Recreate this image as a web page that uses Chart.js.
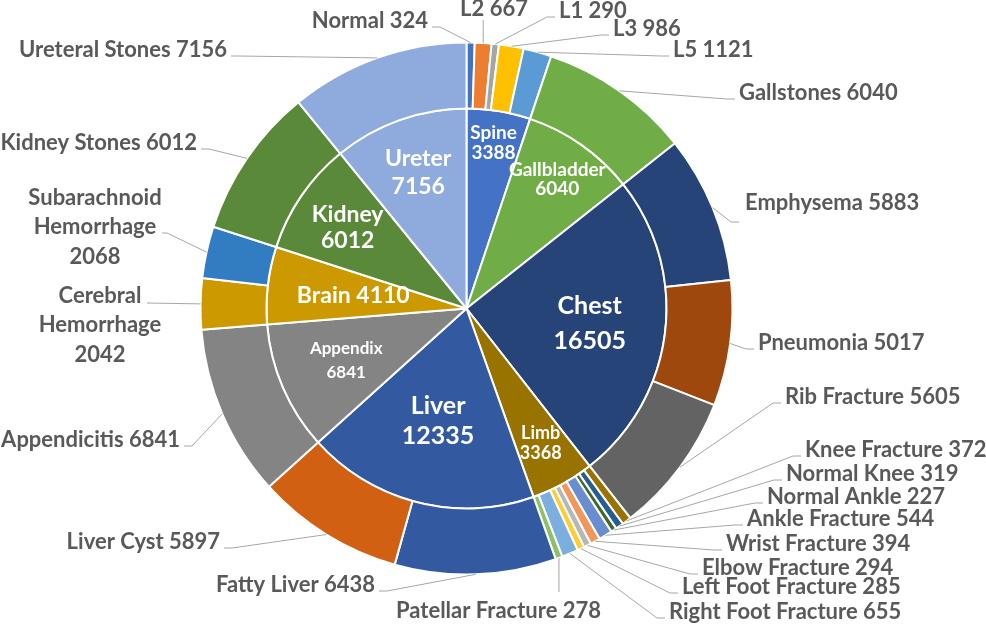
<!DOCTYPE html>
<html>
<head>
<meta charset="utf-8">
<script src="https://cdn.jsdelivr.net/npm/chart.js@4/dist/chart.umd.min.js"></script>
<style>
  html, body { margin: 0; padding: 0; background: #fff; }
  canvas { display: block; }
</style>
</head>
<body>
<canvas id="chart" width="986" height="627"></canvas>
<script>
// ── Datos ────────────────────────────────────────────
const categories = ['Spine', 'Gallbladder', 'Chest', 'Limb', 'Liver', 'Appendix', 'Brain', 'Kidney', 'Ureter'];
const categoryValues = [3388, 6040, 16505, 3368, 12335, 6841, 4110, 6012, 7156];

const findings = [
    'Normal', 'L2', 'L1', 'L3', 'L5',
    'Gallstones',
    'Emphysema', 'Pneumonia', 'Rib Fracture',
    'Knee Fracture', 'Normal Knee', 'Normal Ankle', 'Ankle Fracture', 'Wrist Fracture',
    'Elbow Fracture', 'Left Foot Fracture', 'Right Foot Fracture', 'Patellar Fracture',
    'Fatty Liver', 'Liver Cyst',
    'Appendicitis',
    'Cerebral Hemorrhage', 'Subarachnoid Hemorrhage',
    'Kidney Stones',
    'Ureteral Stones'
];
const findingValues = [
    324, 667, 290, 986, 1121,
    6040,
    5883, 5017, 5605,
    372, 319, 227, 544, 394,
    294, 285, 655, 278,
    6438, 5897,
    6841,
    2042, 2068,
    6012,
    7156
];

// ── Colores (paleta Office) ──────────────────────────
const findingColors = [
    '#4472C4', '#ED7D31', '#A5A5A5', '#FFC000', '#5B9BD5', '#70AD47', '#264478', '#9E480E', '#636363',
    '#997300', '#255E91', '#43682B', '#698ED0', '#F1975A', '#B7B7B7', '#FFCD33', '#7CAFDD', '#8CC168',
    '#335AA1', '#D26012', '#848484', '#CC9A00', '#327DC2', '#5A8A39', '#8FAADC'
];
const categoryColors = ['#4472C4', '#70AD47', '#264478', '#997300', '#335AA1', '#848484', '#CC9A00', '#5A8A39', '#8FAADC'];

// ── Etiquetas interiores: radio relativo y tipografía ─
const innerLabelLayout = [
    { r: 0.84, size: 19, lh: 20 },
    { r: 0.79, size: 19, lh: 19 },
    { r: 0.62, size: 25, lh: 35 },
    { r: 0.77, size: 18, lh: 20 },
    { r: 0.58, size: 25, lh: 30 },
    { r: 0.655, size: 17, lh: 24 },
    { r: 0.57, size: 23, lh: 25, oneLine: true },
    { r: 0.72, size: 23, lh: 26 },
    { r: 0.72, size: 23, lh: 28 }
];

// ── Etiquetas exteriores: posición del texto respecto al centro ─
// line: [elbowDx, elbowDy, stubDx] relativo al texto; vertical: fin de la guía en y
const outerLabelLayout = [
    { x: -38.5, y: -287.5, align: 'right' },
    { x: 27.5, y: -299.5, align: 'center', vertical: 11 },
    { x: 92.5, y: -297.5, align: 'left' },
    { x: 146.5, y: -279.5, align: 'left' },
    { x: 206.5, y: -258.5, align: 'left' },
    { x: 272.5, y: -215.5, align: 'left' },
    { x: 278.5, y: -105.5, align: 'left', line: [-14, 19, -6] },
    { x: 291.5, y: 34.5, align: 'left' },
    { x: 318.5, y: 88.5, align: 'left' },
    { x: 338.5, y: 141.5, align: 'left' },
    { x: 319.5, y: 165.5, align: 'left' },
    { x: 300.5, y: 188.5, align: 'left' },
    { x: 280.5, y: 210.5, align: 'left' },
    { x: 259.5, y: 235.5, align: 'left' },
    { x: 235.5, y: 259.5, align: 'left' },
    { x: 215.5, y: 278.5, align: 'left' },
    { x: 202.5, y: 303.5, align: 'left' },
    { x: -70.5, y: 302.5, align: 'left', vertical: -19 },
    { x: -91.5, y: 276.5, align: 'right' },
    { x: -246.5, y: 233.5, align: 'right' },
    { x: -286.5, y: 131.5, align: 'right' },
    { x: -366.5, y: 16.5, align: 'center', wrap: ['Cerebral', 'Hemorrhage'], line: [47, -22, null] },
    { x: -371.5, y: -81.5, align: 'center', wrap: ['Subarachnoid', 'Hemorrhage'], line: [72, 6, 67] },
    { x: -269.5, y: -165.5, align: 'right' },
    { x: -239.5, y: -258.5, align: 'right' }
];

const FONT = 'Lato, "Open Sans", sans-serif';

function drawLines(ctx, lines, x, y, lh) {
    const top = y - (lines.length - 1) * lh / 2;
    lines.forEach((t, i) => ctx.fillText(t, x, top + i * lh));
}

// ── Plugin de etiquetas ──────────────────────────────
const sunburstLabels = {
    id: 'sunburstLabels',
    afterDatasetsDraw(chart) {
        const ctx = chart.ctx;
        ctx.save();
        ctx.textBaseline = 'middle';

        // anillo exterior
        chart.getDatasetMeta(0).data.forEach((arc, i) => {
            const p = arc.getProps(['x', 'y', 'startAngle', 'endAngle', 'outerRadius'], true);
            const mid = (p.startAngle + p.endAngle) / 2;
            const ax = p.x + Math.cos(mid) * p.outerRadius;
            const ay = p.y + Math.sin(mid) * p.outerRadius;
            const lay = outerLabelLayout[i];
            const tx = p.x + lay.x, ty = p.y + lay.y;

            ctx.strokeStyle = '#A6A6A6';
            ctx.lineWidth = 1;
            ctx.beginPath();
            ctx.moveTo(ax, ay);
            if (lay.vertical !== undefined) {
                ctx.lineTo(ax, ty + lay.vertical);
            } else {
                const sgn = lay.align === 'right' ? 1 : -1;
                const ln = lay.line || [12 * sgn, 6, 4 * sgn];
                ctx.lineTo(tx + ln[0], ty + ln[1]);
                if (ln[2] !== null) ctx.lineTo(tx + ln[2], ty + ln[1]);
            }
            ctx.stroke();

            ctx.fillStyle = '#595959';
            ctx.font = `bold 22px ${FONT}`;
            ctx.textAlign = lay.align;
            if (lay.wrap) {
                drawLines(ctx, [...lay.wrap, String(findingValues[i])], tx, ty, 29.5);
            } else {
                ctx.fillText(`${findings[i]} ${findingValues[i]}`, tx, ty);
            }
        });

        // anillo interior
        chart.getDatasetMeta(1).data.forEach((arc, i) => {
            const p = arc.getProps(['x', 'y', 'startAngle', 'endAngle', 'outerRadius'], true);
            const mid = (p.startAngle + p.endAngle) / 2;
            const lay = innerLabelLayout[i];
            const cx = p.x + Math.cos(mid) * p.outerRadius * lay.r;
            const cy = p.y + Math.sin(mid) * p.outerRadius * lay.r;
            ctx.fillStyle = '#FFFFFF';
            ctx.font = `bold ${lay.size}px ${FONT}`;
            ctx.textAlign = 'center';
            const lines = lay.oneLine
                ? [`${categories[i]} ${categoryValues[i]}`]
                : [categories[i], String(categoryValues[i])];
            drawLines(ctx, lines, cx, cy, lay.lh);
        });

        ctx.restore();
    }
};

// ── Gráfico ──────────────────────────────────────────
new Chart(document.getElementById('chart'), {
    type: 'doughnut',
    data: {
        labels: findings,
        datasets: [
            { label: 'Findings', data: findingValues, backgroundColor: findingColors, borderColor: '#fff', borderWidth: 2, weight: 66 },
            { label: 'Body part', data: categoryValues, backgroundColor: categoryColors, borderColor: '#fff', borderWidth: 2, weight: 200 }
        ]
    },
    options: {
        responsive: false,
        animation: false,
        cutout: 0,
        layout: { padding: { left: 199.5, right: 252.5, top: 41.5, bottom: 51.5 } },
        plugins: { legend: { display: false }, tooltip: { enabled: false } }
    },
    plugins: [sunburstLabels]
});
</script>
</body>
</html>
